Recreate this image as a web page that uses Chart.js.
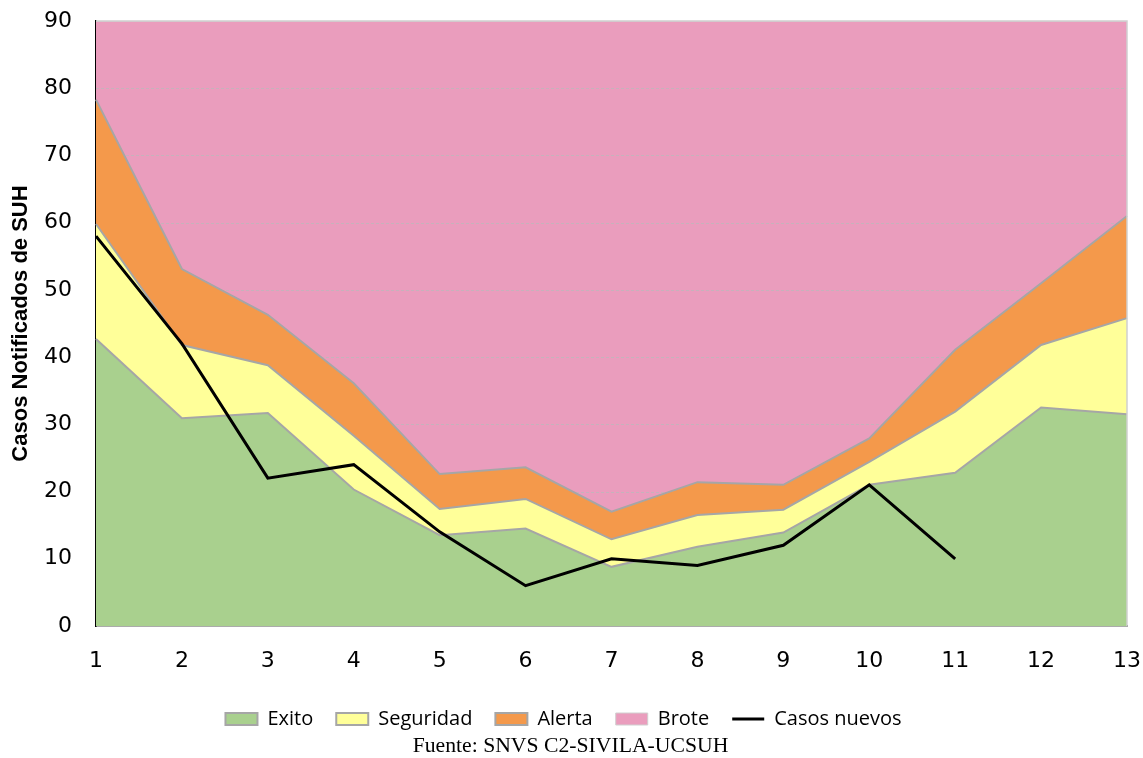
<!DOCTYPE html>
<html>
<head>
<meta charset="utf-8">
<script src="https://cdn.jsdelivr.net/npm/chart.js@4"></script>
<style>
  html, body { margin: 0; padding: 0; background: #fff; }
  #wrap { position: relative; width: 1143px; height: 758px; }
  #c { position: absolute; left: 0; top: 0; }
  #fuente { position: absolute; left: 0; width: 1141px; top: 733px; text-align: center;
            font-family: "Liberation Serif", serif; font-size: 21.7px; color: #000; line-height: 24px; }
</style>
</head>
<body>
<div id="wrap">
  <canvas id="c" width="1143" height="758"></canvas>
  <div id="fuente">Fuente: SNVS C2-SIVILA-UCSUH</div>
</div>
<script>
// Categories (x axis)
const semanas = ['1','2','3','4','5','6','7','8','9','10','11','12','13'];
// Upper boundaries of the stacked zones (cumulative values)
const exito     = [42.7, 30.9, 31.7, 20.3, 13.5, 14.5, 8.8, 11.8, 13.9, 21.0, 22.8, 32.5, 31.5];
const seguridad = [59.8, 41.8, 38.8, 28.3, 17.4, 18.9, 12.9, 16.5, 17.3, 24.4, 31.9, 41.8, 45.8];
const alerta    = [78.3, 53.1, 46.3, 36.1, 22.6, 23.6, 17.0, 21.4, 21.0, 27.9, 41.1, 51.0, 61.0];
const brote     = [90, 90, 90, 90, 90, 90, 90, 90, 90, 90, 90, 90, 90];
// New cases
const casosNuevos = [58, 42, 22, 24, 14, 6, 10, 9, 12, 21, 10, null, null];
// Y ticks
const yMin = 0, yMax = 90, yStep = 10;

const BROTE_INDEX = 3;
const gridPlugin = {
  id: 'pinkGrid',
  afterDatasetDraw(chart, args) {
    if (args.index !== BROTE_INDEX) return;
    const {ctx, chartArea: a, scales: {y}} = chart;
    ctx.save();
    ctx.strokeStyle = '#c6b2bb';
    ctx.lineWidth = 1;
    ctx.setLineDash([3, 2]);
    y.ticks.forEach(t => {
      if (t.value <= yMin || t.value >= yMax) return;
      const py = Math.round(y.getPixelForValue(t.value)) + 0.5;
      ctx.beginPath(); ctx.moveTo(a.left, py); ctx.lineTo(a.right, py); ctx.stroke();
    });
    ctx.restore();
  },
  afterDraw(chart) {
    const {ctx, chartArea: a} = chart;
    ctx.save();
    ctx.strokeStyle = '#d0d0d0';
    ctx.lineWidth = 1.5;
    ctx.beginPath();
    ctx.moveTo(a.left, a.top); ctx.lineTo(a.right, a.top); ctx.lineTo(a.right, a.bottom);
    ctx.stroke();
    ctx.restore();
  }
};

const areaBorder = '#a6a6a6';
new Chart(document.getElementById('c'), {
  type: 'line',
  data: {
    labels: semanas,
    datasets: [
      { label: 'Exito', data: exito, order: 1, fill: 'origin',
        backgroundColor: '#a9d08e', borderColor: areaBorder, borderWidth: 2,
        pointRadius: 0, tension: 0, pointStyle: 'rect' },
      { label: 'Seguridad', data: seguridad, order: 2, fill: '-1',
        backgroundColor: '#ffff99', borderColor: areaBorder, borderWidth: 2,
        pointRadius: 0, tension: 0, pointStyle: 'rect' },
      { label: 'Alerta', data: alerta, order: 3, fill: '-1',
        backgroundColor: '#f4994b', borderColor: areaBorder, borderWidth: 2,
        pointRadius: 0, tension: 0, pointStyle: 'rect' },
      { label: 'Brote', data: brote, order: 4, fill: '-1',
        backgroundColor: '#ea9dbd', borderColor: '#d0d0d0', borderWidth: 1,
        pointRadius: 0, tension: 0, pointStyle: 'rect' },
      { label: 'Casos nuevos', data: casosNuevos, order: 0, fill: false,
        backgroundColor: '#000', borderColor: '#000', borderWidth: 3,
        pointRadius: 0, tension: 0, pointStyle: 'line', spanGaps: false }
    ]
  },
  plugins: [gridPlugin],
  options: {
    responsive: false,
    animation: false,
    layout: { padding: { left: 0, right: 16, top: 21, bottom: 19 } },
    plugins: {
      filler: { drawTime: 'beforeDatasetDraw' },
      tooltip: { enabled: false },
      title: { display: false },
      legend: {
        position: 'bottom',
        labels: {
          sort: (a, b) => a.datasetIndex - b.datasetIndex,
          usePointStyle: true,
          pointStyleWidth: 32,
          boxHeight: 12,
          padding: 23,
          color: '#000',
          font: { family: '"Open Sans", "Noto Sans", sans-serif', size: 20 }
        }
      }
    },
    scales: {
      x: {
        type: 'category',
        offset: false,
        z: 1,
        grid: { display: true, drawOnChartArea: false, drawTicks: true, tickLength: 22, tickColor: 'rgba(0,0,0,0)' },
        border: { display: true, color: '#595959', width: 1.5 },
        ticks: { color: '#000', padding: 0, maxRotation: 0,
                 font: { family: '"DejaVu Sans", sans-serif', size: 22 } },
        afterFit(s) { s.height = 60; }
      },
      y: {
        min: yMin, max: yMax,
        z: 1,
        grid: { display: true, drawOnChartArea: false, drawTicks: true, tickLength: 24, tickColor: 'rgba(0,0,0,0)' },
        border: { display: true, color: '#000', width: 1.5 },
        ticks: { stepSize: yStep, color: '#000', padding: 0,
                 font: { family: '"DejaVu Sans", sans-serif', size: 22 } },
        title: { display: true, text: 'Casos Notificados de SUH', color: '#000',
                 padding: { top: 8, bottom: 0 },
                 font: { family: '"Liberation Sans", Arial, sans-serif', size: 22, weight: 'bold' } },
        afterFit(s) { s.width = 96; }
      }
    }
  }
});
</script>
</body>
</html>
